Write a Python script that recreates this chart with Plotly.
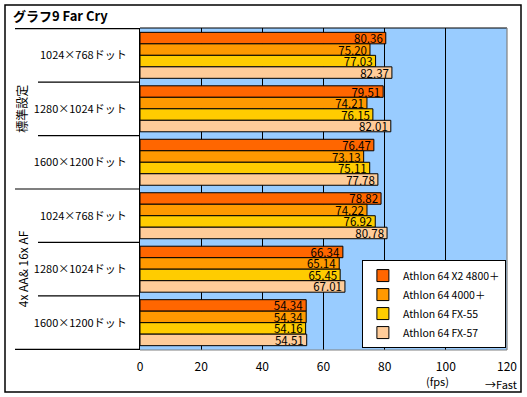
import plotly.graph_objects as go

groups = ["標準設定", "4x AA& 16x AF"]
resolutions = ["1024×768ドット", "1280×1024ドット", "1600×1200ドット",
               "1024×768ドット", "1280×1024ドット", "1600×1200ドット"]
series_names = ["Athlon 64 X2 4800＋", "Athlon 64 4000＋", "Athlon 64 FX-55", "Athlon 64 FX-57"]
colors = ["#FF6600", "#FF9900", "#FFCC00", "#FFCC99"]
x2_4800 = [80.36, 79.51, 76.47, 78.82, 66.34, 54.34]
a4000 = [75.20, 74.21, 73.13, 74.22, 65.14, 54.34]
fx55 = [77.03, 76.15, 75.11, 76.92, 65.45, 54.16]
fx57 = [82.37, 82.01, 77.78, 80.78, 67.01, 54.51]
series_values = [x2_4800, a4000, fx55, fx57]
x_ticks = [0, 20, 40, 60, 80, 100, 120]

FONT = "Noto Sans CJK JP, Noto Sans, sans-serif"
W, H = 527, 397
L, R, T, B = 140, 20, 28, 47
pw, ph = W - L - R, H - T - B

def px(x):
    return (x - L) / pw

def py(y):
    return (H - B - y) / ph

ypos = list(range(len(resolutions)))

fig = go.Figure()
for name, col, vals in zip(series_names, colors, series_values):
    fig.add_trace(go.Bar(
        y=ypos, x=vals, name=name, orientation="h",
        marker=dict(color=col, line=dict(color="black", width=1)),
        text=[f"{v:.2f}" for v in vals], textposition="inside",
        insidetextanchor="end", textangle=0, constraintext="none",
        textfont=dict(color="black", size=11.5, family=FONT),
        cliponaxis=False,
    ))

shapes = []
# outer frame
shapes.append(dict(type="rect", xref="paper", yref="paper",
                   x0=px(5), x1=px(521), y0=py(392), y1=py(5),
                   line=dict(color="black", width=1.5), layer="below"))
# separators between categories
for i in range(len(resolutions) + 1):
    yb = i - 0.5
    major = i in (0, 3, 6)
    shapes.append(dict(type="line", xref="paper", yref="y",
                       x0=px(15 if major else 38), x1=0, y0=yb, y1=yb,
                       line=dict(color="black", width=1.2)))
# plot area edges
shapes.append(dict(type="line", xref="paper", yref="paper", x0=0, x1=1, y0=1, y1=1,
                   line=dict(color="black", width=1.2)))
shapes.append(dict(type="line", xref="paper", yref="paper", x0=1, x1=1, y0=0, y1=1,
                   line=dict(color="#808080", width=1.2)))
shapes.append(dict(type="line", xref="paper", yref="paper", x0=0, x1=1, y0=0, y1=0,
                   line=dict(color="#808080", width=1.2)))

annotations = [
    dict(text="<b>グラフ9 Far Cry</b>", xref="paper", yref="paper",
         x=px(11), y=py(16), xanchor="left", yanchor="middle", showarrow=False,
         font=dict(size=13, family=FONT, color="black")),
    dict(text=groups[0], xref="paper", yref="y", x=px(22), y=1,
         textangle=-90, showarrow=False, xanchor="center", yanchor="middle",
         font=dict(size=12, family=FONT, color="black")),
    dict(text=groups[1], xref="paper", yref="y", x=px(22), y=4,
         textangle=-90, showarrow=False, xanchor="center", yanchor="middle",
         font=dict(size=12, family=FONT, color="black")),
    dict(text="(fps)", xref="paper", yref="paper", x=px(437), y=py(381),
         showarrow=False, xanchor="center", yanchor="middle",
         font=dict(size=11, family=FONT, color="black")),
    dict(text="→Fast", xref="paper", yref="paper", x=px(519), y=py(384),
         showarrow=False, xanchor="right", yanchor="middle",
         font=dict(size=11, family=FONT, color="black")),
]

fig.update_layout(
    width=W, height=H,
    margin=dict(l=L, r=R, t=T, b=B, pad=0, autoexpand=False),
    paper_bgcolor="white", plot_bgcolor="#99CCFF",
    barmode="group", bargap=0.14, bargroupgap=0,
    font=dict(family=FONT, size=12, color="black"),
    showlegend=True,
    legend=dict(x=0.997, y=0.006, xanchor="right", yanchor="bottom",
                bgcolor="white", bordercolor="black", borderwidth=1,
                font=dict(size=10.5, family=FONT), traceorder="normal",
                itemwidth=30, tracegroupgap=0),
    xaxis=dict(range=[0, 120], tickvals=x_ticks, showgrid=True,
               gridcolor="black", gridwidth=1, zeroline=False,
               showline=False, ticks="", ticklabelstandoff=8,
               automargin=False,
               tickfont=dict(size=12, family=FONT), fixedrange=True),
    yaxis=dict(tickvals=ypos, ticktext=resolutions, autorange="reversed",
               showgrid=False, zeroline=False, automargin=False,
               showline=True, linecolor="black", linewidth=1.2,
               ticks="", ticklabelstandoff=10, fixedrange=True,
               tickfont=dict(size=11, family=FONT)),
    shapes=shapes, annotations=annotations,
)

fig.write_html("out.html", config={"displayModeBar": False},
               post_script="document.body.style.margin='0';document.body.style.padding='0';")
